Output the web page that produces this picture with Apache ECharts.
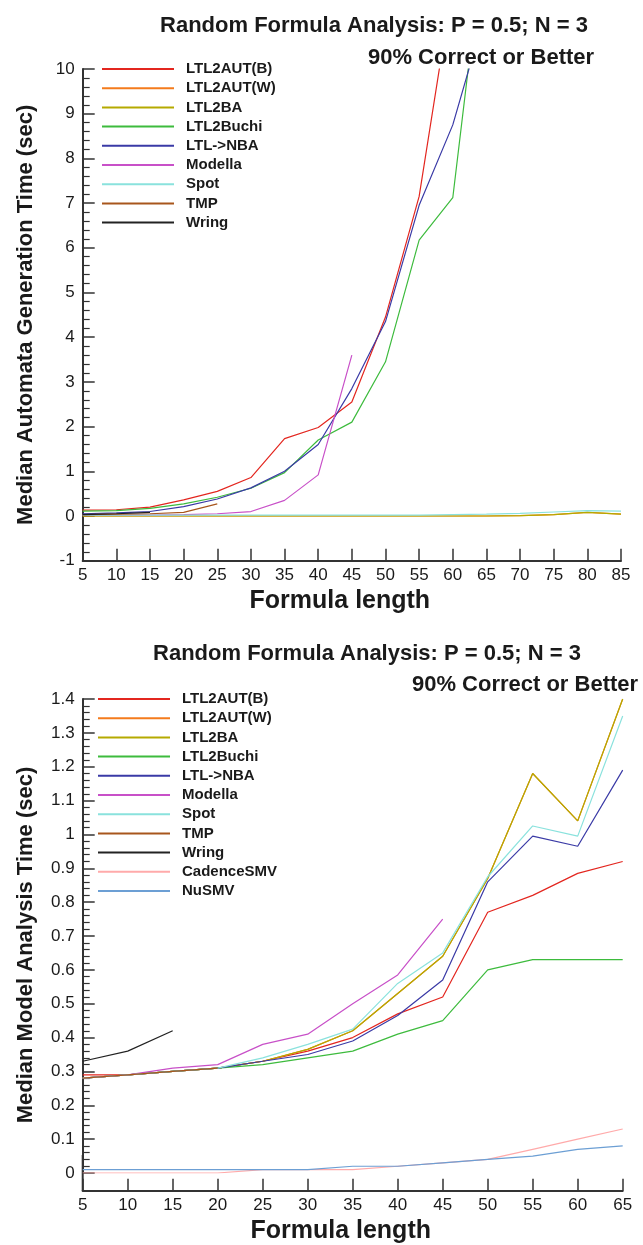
<!DOCTYPE html>
<html>
<head>
<meta charset="utf-8">
<script src="https://cdn.jsdelivr.net/npm/echarts@6/dist/echarts.min.js"></script>
<style>
html,body{margin:0;padding:0;background:#fff;}
#c{width:643px;height:1245px;}
</style>
</head>
<body>
<div id="c"></div>
<script>
// ---------- Data ----------
const titleText = 'Random Formula Analysis: P = 0.5; N = 3';
const subtitleText = '90% Correct or Better';
const xName = 'Formula length';
const yNameTop = 'Median Automata Generation Time (sec)';
const yNameBottom = 'Median Model Analysis Time (sec)';

// Top chart: formula lengths 5..85
const xTop = [5, 10, 15, 20, 25, 30, 35, 40, 45, 50, 55, 60, 65, 70, 75, 80, 85];
const topLTL2AUTB = [0.13, 0.14, 0.2, 0.36, 0.55, 0.86, 1.73, 1.98, 2.55, 4.45, 7.15, 11.9];
const topLTL2AUTW = [0, 0, 0, 0, 0, 0, 0, 0, 0, 0, 0, 0, 0, 0.01, 0.03, 0.08, 0.04];
const topLTL2BA = [0, 0, 0, 0, 0, 0, 0, 0, 0, 0, 0, 0, 0, 0.01, 0.03, 0.08, 0.04];
const topLTL2Buchi = [0.11, 0.12, 0.17, 0.27, 0.42, 0.62, 0.97, 1.7, 2.1, 3.45, 6.17, 7.12, 13.4];
const topLTLNBA = [0.05, 0.07, 0.1, 0.21, 0.38, 0.63, 1.0, 1.6, 2.85, 4.35, 6.95, 8.75, 11.35];
const topModella = [0.02, 0.02, 0.02, 0.03, 0.05, 0.1, 0.35, 0.92, 3.6];
const topSpot = [0.02, 0.02, 0.02, 0.02, 0.02, 0.02, 0.02, 0.02, 0.02, 0.02, 0.02, 0.03, 0.04, 0.06, 0.09, 0.12, 0.11];
const topTMP = [0.03, 0.04, 0.05, 0.08, 0.27];
const topWring = [0.03, 0.05, 0.08];

// Bottom chart: formula lengths 5..65
const xBottom = [5, 10, 15, 20, 25, 30, 35, 40, 45, 50, 55, 60, 65];
const botLTL2AUTB = [0.29, 0.29, 0.3, 0.31, 0.33, 0.36, 0.4, 0.47, 0.52, 0.77, 0.82, 0.885, 0.92];
const botLTL2AUTW = [0.28, 0.29, 0.3, 0.31, 0.33, 0.365, 0.42, 0.53, 0.64, 0.87, 1.18, 1.04, 1.4];
const botLTL2BA = [0.28, 0.29, 0.3, 0.31, 0.33, 0.365, 0.42, 0.53, 0.64, 0.87, 1.18, 1.04, 1.4];
const botLTL2Buchi = [0.28, 0.29, 0.3, 0.31, 0.32, 0.34, 0.36, 0.41, 0.45, 0.6, 0.63, 0.63, 0.63];
const botLTLNBA = [0.28, 0.29, 0.3, 0.31, 0.33, 0.35, 0.39, 0.465, 0.57, 0.86, 0.995, 0.965, 1.19];
const botModella = [0.28, 0.29, 0.31, 0.32, 0.38, 0.41, 0.5, 0.585, 0.75];
const botSpot = [0.28, 0.29, 0.3, 0.31, 0.34, 0.38, 0.425, 0.56, 0.65, 0.875, 1.025, 0.995, 1.35];
const botTMP = [0.28, 0.29, 0.3, 0.31];
const botWring = [0.33, 0.36, 0.42];
const botCadenceSMV = [0, 0, 0, 0, 0.01, 0.01, 0.01, 0.02, 0.03, 0.04, 0.07, 0.1, 0.13];
const botNuSMV = [0.01, 0.01, 0.01, 0.01, 0.01, 0.01, 0.02, 0.02, 0.03, 0.04, 0.05, 0.07, 0.08];

const namesTop = ['LTL2AUT(B)', 'LTL2AUT(W)', 'LTL2BA', 'LTL2Buchi', 'LTL->NBA', 'Modella', 'Spot', 'TMP', 'Wring'];
const namesBottom = ['LTL2AUT(B)', 'LTL2AUT(W)', 'LTL2BA', 'LTL2Buchi', 'LTL->NBA', 'Modella', 'Spot', 'TMP', 'Wring', 'CadenceSMV', 'NuSMV'];

// ---------- Styles ----------
const colors = {
  'LTL2AUT(B)': '#e3261f',
  'LTL2AUT(W)': '#f47b1c',
  'LTL2BA': '#b5aa00',
  'LTL2Buchi': '#3dbb3d',
  'LTL->NBA': '#3a3aa6',
  'Modella': '#c850c8',
  'Spot': '#8ae2dd',
  'TMP': '#a8561c',
  'Wring': '#222222',
  'CadenceSMV': '#ffaaaa',
  'NuSMV': '#6c9fd4'
};
const FONT = '"Liberation Sans", Arial, Helvetica, sans-serif';
const INK = '#1a1a1a';
const AX = '#333';

const topData = [topLTL2AUTB, topLTL2AUTW, topLTL2BA, topLTL2Buchi, topLTLNBA, topModella, topSpot, topTMP, topWring];
const botData = [botLTL2AUTB, botLTL2AUTW, botLTL2BA, botLTL2Buchi, botLTLNBA, botModella, botSpot, botTMP, botWring, botCadenceSMV, botNuSMV];

function pairs(xs, ys) { return ys.map((v, i) => [xs[i], v]); }

const series = [];
namesTop.forEach((n, i) => {
  series.push({
    type: 'line', name: n, xAxisIndex: 0, yAxisIndex: 0,
    data: pairs(xTop, topData[i]), symbol: 'none', showSymbol: false, clip: true,
    lineStyle: { color: colors[n], width: 1.2 }, itemStyle: { color: colors[n] },
    animation: false
  });
});
namesBottom.forEach((n, i) => {
  series.push({
    type: 'line', name: n, xAxisIndex: 1, yAxisIndex: 1,
    data: pairs(xBottom, botData[i]), symbol: 'none', showSymbol: false, clip: true,
    lineStyle: { color: colors[n], width: 1.2 }, itemStyle: { color: colors[n] },
    animation: false
  });
});

function xAxisCfg(gi, max, offset) {
  return {
    type: 'value', gridIndex: gi, position: 'bottom', offset: offset, min: 5, max: max, interval: 5,
    name: xName, nameLocation: 'middle', nameGap: 28,
    nameTextStyle: { fontFamily: FONT, fontWeight: 'bold', fontSize: 25, color: INK, padding: [0, 24, 0, 0] },
    axisLine: { show: true, onZero: false, lineStyle: { color: AX, width: 2 } },
    axisTick: { show: true, inside: true, length: 12, lineStyle: { color: AX, width: 1.5 } },
    minorTick: { show: false },
    axisLabel: { fontFamily: FONT, fontSize: 17, color: INK, margin: 6 },
    splitLine: { show: false }
  };
}
const yNameStyle = { fontFamily: FONT, fontWeight: 'bold', fontSize: 22, color: INK };
const yLabelStyle = { fontFamily: FONT, fontSize: 17, color: INK, margin: 8 };

const yAxes = [
  {
    type: 'value', gridIndex: 0, position: 'left', min: -1, max: 10, interval: 1,
    name: yNameTop, nameLocation: 'middle', nameGap: 46, nameTextStyle: yNameStyle,
    axisLine: { show: true, onZero: false, lineStyle: { color: AX, width: 2 } },
    axisTick: { show: true, inside: true, length: 12, lineStyle: { color: AX, width: 1.5 } },
    minorTick: { show: true, splitNumber: 5, length: 7, lineStyle: { color: AX, width: 1.2 } },
    axisLabel: yLabelStyle,
    splitLine: { show: false }
  },
  {
    // 0..1.4; the axis line is continued below 0 down to the offset x-axis by an end cap
    type: 'value', gridIndex: 1, position: 'left', min: 0, max: 1.4, interval: 0.1,
    name: yNameBottom, nameLocation: 'middle', nameGap: 46,
    nameTextStyle: Object.assign({ padding: [0, 18, 0, 0] }, yNameStyle),
    axisLine: { show: true, onZero: false, symbol: ['rect', 'none'], symbolSize: [2, 36], symbolOffset: [0, 0],
      lineStyle: { color: AX, width: 2 } },
    axisTick: { show: true, inside: true, length: 12, lineStyle: { color: AX, width: 1.5 } },
    minorTick: { show: true, splitNumber: 5, length: 7, lineStyle: { color: AX, width: 1.2 } },
    axisLabel: yLabelStyle,
    splitLine: { show: false }
  }
];

function legendCfg(names, left, top) {
  return {
    orient: 'vertical', left: left, top: top, data: names, padding: 0,
    itemWidth: 72, itemHeight: 12, itemGap: 4.2,
    itemStyle: { opacity: 0 },
    lineStyle: { width: 2 },
    textStyle: { fontFamily: FONT, fontWeight: 'bold', fontSize: 15, color: INK, padding: [0, 0, 0, 7] },
    selectedMode: false
  };
}

const chart = echarts.init(document.getElementById('c'), null, { renderer: 'canvas' });
chart.setOption({
  animation: false,
  backgroundColor: '#fff',
  title: [
    { text: titleText, left: 369, top: 10, textAlign: 'center',
      textStyle: { fontFamily: FONT, fontWeight: 'bold', fontSize: 22, color: INK } },
    { text: subtitleText, left: 476, top: 42, textAlign: 'center',
      textStyle: { fontFamily: FONT, fontWeight: 'bold', fontSize: 22, color: INK } },
    { text: titleText, left: 362, top: 638, textAlign: 'center',
      textStyle: { fontFamily: FONT, fontWeight: 'bold', fontSize: 22, color: INK } },
    { text: subtitleText, left: 520, top: 669, textAlign: 'center',
      textStyle: { fontFamily: FONT, fontWeight: 'bold', fontSize: 22, color: INK } }
  ],
  legend: [
    legendCfg(namesTop, 101, 61.5),
    legendCfg(namesBottom, 97, 691.5)
  ],
  grid: [
    { left: 82.7, right: 22, top: 69, height: 491.7 },
    { left: 82.7, right: 20.3, top: 699, height: 474 }
  ],
  xAxis: [xAxisCfg(0, 85, 0), xAxisCfg(1, 65, 17.7)],
  yAxis: yAxes,
  series: series
});
</script>
</body>
</html>
